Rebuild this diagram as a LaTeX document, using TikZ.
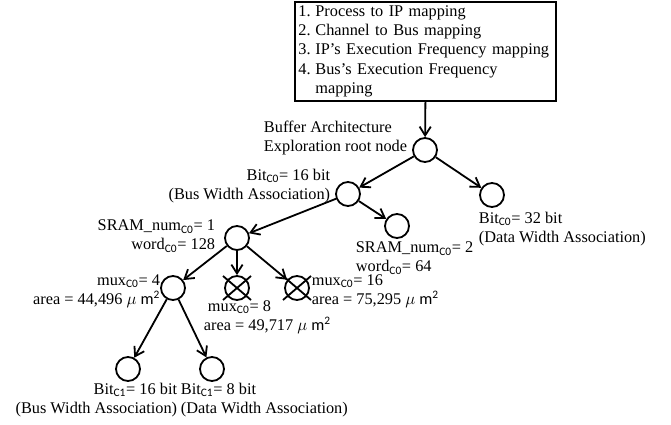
\documentclass[tikz,border=0pt]{standalone}
\usepackage{fontspec}
\setmainfont{Liberation Serif}
\newfontfamily\subfont{Carlito}
\usetikzlibrary{arrows.meta}
\newcommand{\cz}[1]{\textsubscript{\subfont #1}}
\newcommand{\umsq}{$\mu$\ {\subfont m}\textsuperscript{\subfont 2}}
\newcommand{\itm}[1]{\makebox[4.25mm][l]{#1}}
\tikzset{
  px/.style={x=.25mm,y=-.25mm,line width=.45mm,font=\fontsize{11.6}{13.5}\selectfont},
  vtx/.style={circle,draw,minimum size=6mm,inner sep=0pt},
  lbl/.style={inner sep=0pt},
  arr/.style={-{Straight Barb[length=2.2mm,width=2.8mm]}}
}

\begin{document}
\begin{tikzpicture}[px]
  \useasboundingbox (0,0) rectangle (671,425);
  % mapping steps
  \node[draw,line width=.4mm,anchor=north west,minimum height=24.75mm,text width=63.5mm,inner xsep=.9mm,inner ysep=0pt,align=left,font=\fontsize{11.6}{13.8}\selectfont] (box) at (294,1)
    {\hyphenpenalty=10000
     \itm{1.}Process to IP mapping\\
     \itm{2.}Channel to Bus mapping\\
     \itm{3.}IP's Execution Frequency mapping\\
     \itm{4.}Bus's Execution Frequency\\
     \itm{}mapping\par\vspace{-1.6mm}};
  % tree nodes
  \node[vtx] (root) at (425,150) {};
  \node[vtx] (b16) at (348,194) {};
  \node[vtx] (b32) at (492,195) {};
  \node[vtx] (s1) at (237,238) {};
  \node[vtx] (s2) at (397,226) {};
  \node[vtx] (m4) at (173,288) {};
  \node[vtx] (m8) at (237,288) {};
  \node[vtx] (m16) at (297,288) {};
  \node[vtx] (c16) at (128,369) {};
  \node[vtx] (c8) at (212,369) {};
  % pruned ones
  \foreach \n in {m8,m16}{
    \draw ([shift={(-14,-12)}]\n.center) -- ([shift={(14,12)}]\n.center);
    \draw ([shift={(-14,12)}]\n.center) -- ([shift={(14,-12)}]\n.center);
  }
  % labels
  \node[lbl,anchor=east,align=left] (lroot) at (408,138) {Buffer Architecture\\Exploration root node};
  \node[lbl,anchor=east,align=right] (lb16) at (331,186) {Bit\cz{C0}= 16 bit\\(Bus Width Association)};
  \node[lbl,anchor=west,align=left] (lb32) at (478,229) {Bit\cz{C0}= 32 bit\\(Data Width Association)};
  \node[lbl,anchor=east,align=right] (ls1) at (216,236) {SRAM\_num\cz{C0}= 1\\word\cz{C0}= 128};
  \node[lbl,anchor=west,align=left] (ls2) at (355,258) {SRAM\_num\cz{C0}= 2\\word\cz{C0}= 64};
  \node[lbl,anchor=east,align=right] (lm4) at (161,291) {mux\cz{C0}= 4\\area = 44,496 \umsq};
  \node[lbl,anchor=west,align=left] (lm8) at (203,317) {\ mux\cz{C0}= 8\\area = 49,717 \umsq};
  \node[lbl,anchor=west,align=left] (lm16) at (311,291) {mux\cz{C0}= 16\\area = 75,295 \umsq};
  \node[lbl,anchor=east,align=right] (lc16) at (178,400) {Bit\cz{C1}= 16 bit\\(Bus Width Association)};
  \node[lbl,anchor=west,align=left] (lc8) at (180,400) {Bit\cz{C1}= 8 bit\\(Data Width Association)};
  % edges
  \draw[arr] (box.south) -- (root);
  \draw[arr] (root) -- (b16);
  \draw[arr] (root) -- (b32);
  \draw[arr] (b16) -- (s1);
  \draw[arr] (b16) -- (s2);
  \foreach \t in {m4,m8,m16} \draw[arr] (s1) -- (\t);
  \draw[arr] (m4) -- (c16);
  \draw[arr] (m4) -- (c8);
\end{tikzpicture}
\end{document}
